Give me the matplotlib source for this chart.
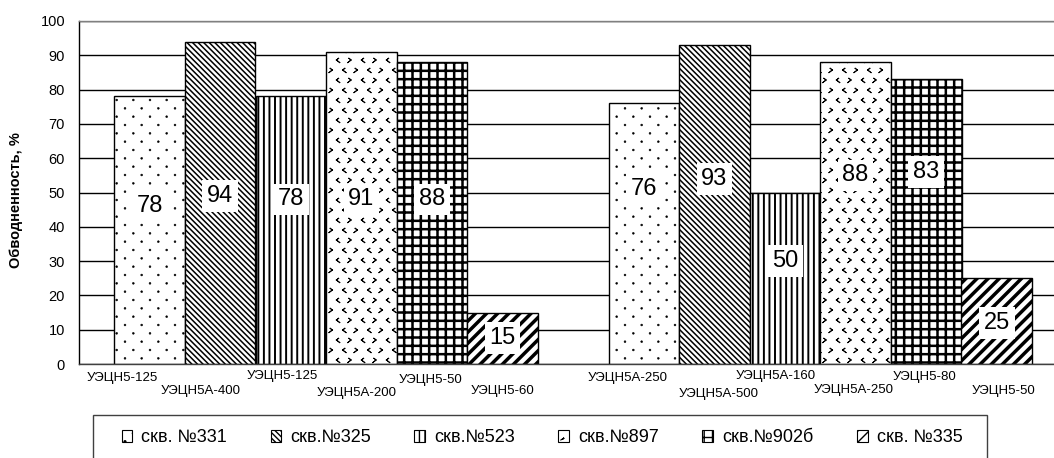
import numpy as np
import matplotlib
matplotlib.use("Agg")
import matplotlib.pyplot as plt
import matplotlib.hatch as mhatch
from matplotlib.path import Path
from matplotlib.patches import Patch, Rectangle

# ---------------- data ----------------
wells = ["скв. №331", "скв.№325", "скв.№523", "скв.№897", "скв.№902б", "скв. №335"]
well_331 = [78, 76]
well_325 = [94, 93]
well_523 = [78, 50]
well_897 = [91, 88]
well_902b = [88, 83]
well_335 = [15, 25]
pumps_group1 = ["УЭЦН5-125", "УЭЦН5А-400", "УЭЦН5-125", "УЭЦН5А-200", "УЭЦН5-50", "УЭЦН5-60"]
pumps_group2 = ["УЭЦН5А-250", "УЭЦН5А-500", "УЭЦН5А-160", "УЭЦН5А-250", "УЭЦН5-80", "УЭЦН5-50"]
y_ticks = [0, 10, 20, 30, 40, 50, 60, 70, 80, 90, 100]
y_label = "Обводненность, %"

series_values = [well_331, well_325, well_523, well_897, well_902b, well_335]
pump_labels = [pumps_group1, pumps_group2]

# ---------------- layout / style ----------------
hatches = ["o", "\\" * 6, "|||", "*", "++", "///"]
hatch_lws = [0.4, 1.1, 1.4, 0.7, 1.8, 2.5]
# vertical anchor (in data units) of the value labels, per group
label_anchor = [[46, 49, 48, 48, 48, 7.6], [51, 54, 30, 55, 56, 12]]
# category label offsets below the axis, pixels
tick_dy = [[14, 27, 12, 29, 16, 27], [14, 30, 12, 26, 13, 27]]
tick_dx = [[-27, -20, -9, -5, -1, 0], [-16, 4, -9, -2, -2, 7]]


# ---- custom lattice hatches (sparse dots, chevrons) ----
class Lattice(mhatch.HatchPatternBase):
    char = ''

    def __init__(self, hatch, density):
        self.num_vertices = 0
        if not self.char or hatch.count(self.char) == 0:
            return
        verts, codes = [], []
        for (x, y), (sv, sc) in self.centers():
            for ox in (-1, 0, 1):
                for oy in (-1, 0, 1):
                    cx, cy = x + ox, y + oy
                    if -0.05 <= cx <= 1.05 and -0.05 <= cy <= 1.05:
                        verts.append(sv + np.array([cx, cy]))
                        codes.append(sc)
        self._v = np.concatenate(verts)
        self._c = np.concatenate(codes).astype(Path.code_type)
        self.num_vertices = len(self._v)

    def set_vertices_and_codes(self, vertices, codes):
        vertices[:] = self._v
        codes[:] = self._c


class SparseDots(Lattice):
    char = 'o'

    def centers(self):
        circ = Path.unit_circle()
        shp = (circ.vertices * 0.009, circ.codes)
        out = []
        for i in range(12):
            for j in range(6):
                out.append((((j + 0.5 * (i % 2)) / 6, i / 12), shp))
        return out


class ChevronLattice(Lattice):
    char = '*'

    def centers(self):
        base = np.array([[-0.011, 0.017], [0.011, 0.0], [-0.011, -0.017],
                         [0.011, 0.0], [-0.011, 0.017]])
        c = np.array([Path.MOVETO] + [Path.LINETO] * 4)
        right = (base, c)
        left = (base * np.array([-1, 1]), c)
        out = []
        for i in range(10):
            for j in range(8):
                out.append((((j + 0.5 * (i % 2)) / 8, i / 10), right if j % 2 == 0 else left))
        return out


def _swap(t):
    if t is mhatch.SmallCircles:
        return SparseDots
    if t is mhatch.Stars:
        return ChevronLattice
    return t


mhatch._hatch_types = [_swap(t) for t in mhatch._hatch_types]

plt.rcParams['font.family'] = ['Liberation Sans', 'DejaVu Sans']

W, H = 1054, 458
fig = plt.figure(figsize=(W / 100, H / 100), dpi=100)
ax_left, ax_right, ax_top, ax_bot = 79, 1054, 21, 364
ax = fig.add_axes([ax_left / W, 1 - ax_bot / H, (ax_right - ax_left) / W, (ax_bot - ax_top) / H])

bar_px = 70.6
n_series = len(series_values)
for i, vals in enumerate(series_values):
    xs = [1 + i + g * (n_series + 1) for g in range(len(vals))]
    with plt.rc_context({'hatch.linewidth': hatch_lws[i], 'hatch.color': 'black'}):
        bars = ax.bar(xs, vals, width=1.0, facecolor='white', edgecolor='black',
                      hatch=hatches[i], linewidth=1.0, zorder=2)
    for p in bars:
        if hasattr(p, 'set_hatch_linewidth'):
            p.set_hatch_linewidth(hatch_lws[i])
    for g, (x, v) in enumerate(zip(xs, vals)):
        ax.text(x, label_anchor[g][i], str(v), ha='center', va='center', fontsize=17,
                zorder=4, bbox=dict(boxstyle='square,pad=0.2', fc='white', ec='none'))
        ax.annotate(pump_labels[g][i], xy=(x, 0), xycoords='data',
                    xytext=(tick_dx[g][i] * 0.72, -tick_dy[g][i] * 0.72),
                    textcoords='offset points', ha='center', va='center',
                    fontsize=9.5, annotation_clip=False)

ax.set_xlim(0, (ax_right - ax_left) / bar_px)
ax.set_ylim(0, 100)
ax.set_yticks(y_ticks)
ax.set_xticks([])
ax.tick_params(axis='y', length=0, pad=10, labelsize=10.5)
ax.yaxis.grid(True, color='black', linewidth=1.0)
ax.set_axisbelow(True)
ax.spines['right'].set_visible(False)
ax.spines['top'].set_color('#808080')
ax.spines['left'].set_color('black')
ax.spines['bottom'].set_color('#404040')
for s in ax.spines.values():
    s.set_linewidth(1.0)

fig.text(16 / W, 1 - 200 / H, y_label, rotation=90, ha='center', va='center',
         fontsize=10.5, fontweight='bold')

# legend box (extends beyond bottom edge as in the reference)
box = Rectangle((93 / W, -0.1), (987 - 93) / W, (H - 415) / H + 0.1,
                transform=fig.transFigure, fill=False, edgecolor='#404040',
                linewidth=1.0, clip_on=False)
fig.add_artist(box)

handles = []
for i in range(n_series):
    with plt.rc_context({'hatch.linewidth': 0.6}):
        handles.append(Patch(facecolor='white', edgecolor='black', hatch=hatches[i], linewidth=0.8))
fig.legend(handles, wells, loc='center', bbox_to_anchor=(542 / W, 1 - 438 / H), ncol=6,
           frameon=False, fontsize=13, handlelength=0.6, handleheight=0.6,
           handletextpad=0.5, columnspacing=2.4)

fig.savefig("out.png", dpi=100)
